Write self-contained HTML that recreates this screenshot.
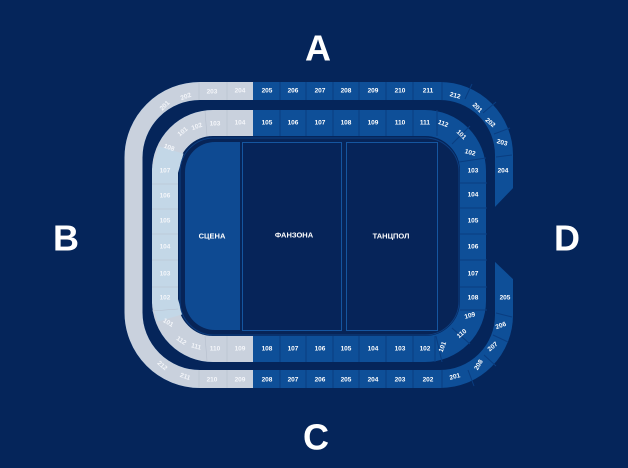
<!DOCTYPE html>
<html><head><meta charset="utf-8"><style>
html,body{margin:0;padding:0;background:#05255a;}
svg{display:block;font-family:"Liberation Sans","DejaVu Sans",sans-serif;}
.s{font-size:6.5px;font-weight:bold;fill:#fff;text-anchor:middle;dominant-baseline:central;}
.g{fill:#f4f6fa;}
.b{font-size:36px;font-weight:bold;fill:#fff;text-anchor:middle;dominant-baseline:central;}
.c{font-size:7.5px;font-weight:bold;fill:#fff;text-anchor:middle;dominant-baseline:central;}
</style></head><body>
<svg width="628" height="468" viewBox="0 0 628 468" xmlns="http://www.w3.org/2000/svg">
<rect width="628" height="468" fill="#05255a"/>
<!-- outer ring 200 level -->
<path d="M504,212 L504,155 A64,64 0 0 0 440,91 L200,91 A66.5,66.5 0 0 0 133.5,157.5 L133.5,312.5 A66.5,66.5 0 0 0 200,379 L440,379 A64,64 0 0 0 504,315 L504,256" fill="none" stroke="#0e4f98" stroke-width="18"/>
<path d="M253,91 L200,91 A66.5,66.5 0 0 0 133.5,157.5 L133.5,312.5 A66.5,66.5 0 0 0 200,379 L253,379" fill="none" stroke="#c9d1dd" stroke-width="18"/>
<polygon points="493,209 515,186 515,214 493,214" fill="#05255a"/>
<polygon points="493,256 493,260 515,281 515,256" fill="#05255a"/>
<!-- inner ring 100 level -->
<path d="M213,123 L425,123 A48,48 0 0 1 473,171 L473,301 A48,48 0 0 1 425,349 L213,349 A48,48 0 0 1 165,301 L165,171 A48,48 0 0 1 213,123 Z" fill="none" stroke="#0e4f98" stroke-width="26"/>
<path d="M253,123 L213,123 A48,48 0 0 0 165,171 L165,301 A48,48 0 0 0 213,349 L253,349" fill="none" stroke="#c9d1dd" stroke-width="26"/>
<path d="M171,150 L165,171 L165,301 L170,318" fill="none" stroke="#c3d7e7" stroke-width="26"/>
<!-- separators blue straight -->
<g stroke="#0a3d80" stroke-width="1">
<line x1="280" y1="82" x2="280" y2="100"/><line x1="306" y1="82" x2="306" y2="100"/><line x1="333" y1="82" x2="333" y2="100"/><line x1="359" y1="82" x2="359" y2="100"/><line x1="386" y1="82" x2="386" y2="100"/><line x1="413" y1="82" x2="413" y2="100"/><line x1="442" y1="82" x2="442" y2="100"/>
<line x1="280" y1="110" x2="280" y2="136"/><line x1="306" y1="110" x2="306" y2="136"/><line x1="333" y1="110" x2="333" y2="136"/><line x1="359" y1="110" x2="359" y2="136"/><line x1="386" y1="110" x2="386" y2="136"/><line x1="413" y1="110" x2="413" y2="136"/><line x1="437" y1="110" x2="437" y2="136"/>
<line x1="280" y1="336" x2="280" y2="362"/><line x1="306" y1="336" x2="306" y2="362"/><line x1="333" y1="336" x2="333" y2="362"/><line x1="359" y1="336" x2="359" y2="362"/><line x1="386" y1="336" x2="386" y2="362"/><line x1="413" y1="336" x2="413" y2="362"/><line x1="435" y1="336" x2="435" y2="362"/>
<line x1="280" y1="370" x2="280" y2="388"/><line x1="306" y1="370" x2="306" y2="388"/><line x1="333" y1="370" x2="333" y2="388"/><line x1="359" y1="370" x2="359" y2="388"/><line x1="386" y1="370" x2="386" y2="388"/><line x1="413" y1="370" x2="413" y2="388"/><line x1="442" y1="370" x2="442" y2="388"/>
<line x1="460" y1="183" x2="487" y2="183"/><line x1="460" y1="208" x2="487" y2="208"/><line x1="460" y1="234" x2="487" y2="234"/><line x1="460" y1="260" x2="487" y2="260"/><line x1="460" y1="287" x2="487" y2="287"/><line x1="460" y1="310" x2="487" y2="310"/>
<line x1="459" y1="162" x2="486" y2="158"/><line x1="452" y1="144" x2="470" y2="126"/><line x1="452" y1="328" x2="470" y2="344"/><line x1="436" y1="336" x2="442" y2="362"/>
<line x1="465" y1="99" x2="472" y2="84"/><line x1="483" y1="113" x2="496" y2="102"/><line x1="494" y1="134" x2="510" y2="128"/><line x1="496" y1="157" x2="512" y2="155"/>
<line x1="496" y1="313" x2="512" y2="317"/><line x1="493" y1="335" x2="508" y2="342"/><line x1="484" y1="355" x2="496" y2="366"/><line x1="468" y1="370" x2="474" y2="386"/>
</g>
<g stroke="#b6bfcd" stroke-width="0.6">
<line x1="227" y1="82" x2="227" y2="100"/><line x1="199" y1="82" x2="199" y2="100"/><line x1="227" y1="110" x2="227" y2="136"/><line x1="205" y1="111" x2="207" y2="136"/>
<line x1="227" y1="336" x2="227" y2="362"/><line x1="205" y1="336" x2="207" y2="361"/><line x1="227" y1="370" x2="227" y2="388"/><line x1="199" y1="370" x2="199" y2="388"/>
<line x1="152" y1="184" x2="178" y2="184"/><line x1="152" y1="209" x2="178" y2="209"/><line x1="152" y1="234" x2="178" y2="234"/><line x1="152" y1="260" x2="178" y2="260"/><line x1="152" y1="287" x2="178" y2="287"/><line x1="152" y1="311" x2="178" y2="309"/>
</g>
<!-- field -->
<rect x="180" y="138" width="279" height="197" rx="34" fill="#072457" stroke="#0d3f82" stroke-width="1"/>
<path d="M240,142 L240,330 L215,330 A30,30 0 0 1 185,300 L185,172 A30,30 0 0 1 215,142 Z" fill="#0e4a92"/>
<rect x="242.5" y="142.5" width="99" height="188" fill="#062459" stroke="#1556a0" stroke-width="1"/>
<rect x="346.5" y="142.5" width="91" height="188" fill="#062459" stroke="#1556a0" stroke-width="1"/>
<text class="c" x="212" y="236">СЦЕНА</text>
<text class="c" x="294" y="235">ФАНЗОНА</text>
<text class="c" x="391" y="236">ТАНЦПОЛ</text>
<!-- big letters -->
<text class="b" x="318" y="48">A</text>
<text class="b" x="66" y="238">B</text>
<text class="b" x="316" y="437">C</text>
<text class="b" x="567" y="238">D</text>
<!-- labels -->
<g class="s">
<text x="267" y="91">205</text><text x="293" y="91">206</text><text x="320" y="91">207</text><text x="346" y="91">208</text><text x="373" y="91">209</text><text x="400" y="91">210</text><text x="428" y="91">211</text>
<text x="267" y="123">105</text><text x="293" y="123">106</text><text x="320" y="123">107</text><text x="346" y="123">108</text><text x="373" y="123">109</text><text x="400" y="123">110</text><text x="425" y="123">111</text>
<text x="267" y="349">108</text><text x="293" y="349">107</text><text x="320" y="349">106</text><text x="346" y="349">105</text><text x="373" y="349">104</text><text x="400" y="349">103</text><text x="425" y="349">102</text>
<text x="267" y="380">208</text><text x="293" y="380">207</text><text x="320" y="380">206</text><text x="346" y="380">205</text><text x="373" y="380">204</text><text x="400" y="380">203</text><text x="428" y="380">202</text>
<text x="443" y="124" transform="rotate(20 443 124)">112</text>
<text x="461" y="135" transform="rotate(45 461 135)">101</text>
<text x="470" y="153" transform="rotate(15 470 153)">102</text>
<text x="473" y="171">103</text><text x="473" y="195">104</text><text x="473" y="221">105</text><text x="473" y="247">106</text><text x="473" y="274">107</text><text x="473" y="298">108</text>
<text x="470" y="316" transform="rotate(-15 470 316)">109</text>
<text x="462" y="334" transform="rotate(-40 462 334)">110</text>
<text x="443" y="347" transform="rotate(-70 443 347)">101</text>
<text x="455" y="96" transform="rotate(15 455 96)">212</text>
<text x="477" y="108" transform="rotate(45 477 108)">201</text>
<text x="490" y="123" transform="rotate(40 490 123)">202</text>
<text x="502" y="143" transform="rotate(15 502 143)">203</text>
<text x="503" y="171">204</text>
<text x="505" y="298">205</text>
<text x="501" y="326" transform="rotate(-20 501 326)">206</text>
<text x="493" y="347" transform="rotate(-40 493 347)">207</text>
<text x="479" y="365" transform="rotate(-60 479 365)">208</text>
<text x="455" y="377" transform="rotate(-15 455 377)">201</text>
</g>
<g class="s g">
<text x="240" y="91">204</text><text x="212" y="92">203</text>
<text x="186" y="97" transform="rotate(-20 186 97)">202</text>
<text x="165" y="106" transform="rotate(-45 165 106)">201</text>
<text x="240" y="123">104</text><text x="215" y="124">103</text>
<text x="197" y="127" transform="rotate(-20 197 127)">102</text>
<text x="183" y="132" transform="rotate(-40 183 132)">101</text>
<text x="169" y="148" transform="rotate(20 169 148)">108</text>
<text x="165" y="171">107</text><text x="165" y="196">106</text><text x="165" y="221">105</text><text x="165" y="247">104</text><text x="165" y="274">103</text><text x="165" y="298">102</text>
<text x="168" y="323" transform="rotate(30 168 323)">101</text>
<text x="181" y="341" transform="rotate(35 181 341)">112</text>
<text x="196" y="347" transform="rotate(15 196 347)">111</text>
<text x="215" y="349">110</text><text x="240" y="349">109</text>
<text x="162" y="366" transform="rotate(40 162 366)">212</text>
<text x="185" y="377" transform="rotate(20 185 377)">211</text>
<text x="212" y="380">210</text><text x="240" y="380">209</text>
</g>
</svg>
</body></html>
